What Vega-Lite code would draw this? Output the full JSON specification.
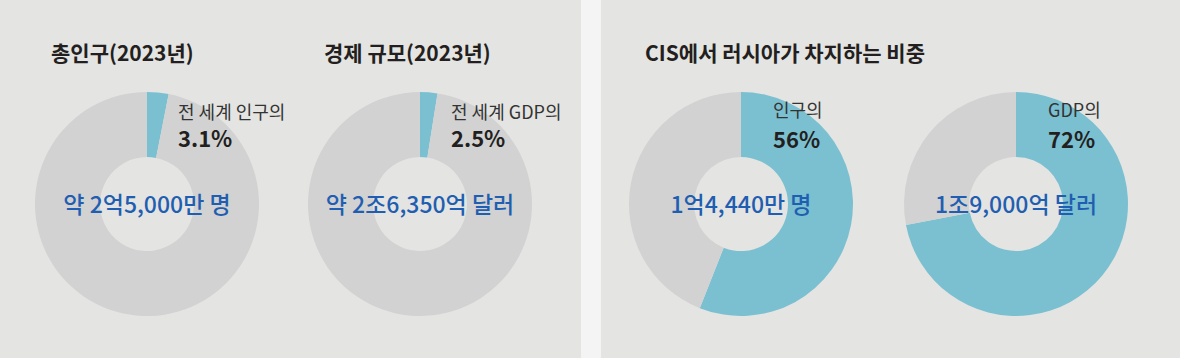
{
  "$schema": "https://vega.github.io/schema/vega-lite/v6.json",
  "background": "#f4f4f4",
  "padding": 0,
  "spacing": 20,
  "config": {"view": {"fill": "#e4e4e2", "stroke": null}, "font": "Noto Sans CJK KR"},
  "datasets": {
    "shares": [
      {"panel": "world", "chart": "population", "part": "share", "value": 3.1},
      {"panel": "world", "chart": "population", "part": "rest", "value": 96.9},
      {"panel": "world", "chart": "gdp", "part": "share", "value": 2.5},
      {"panel": "world", "chart": "gdp", "part": "rest", "value": 97.5},
      {"panel": "cis", "chart": "cis_population", "part": "share", "value": 56},
      {"panel": "cis", "chart": "cis_population", "part": "rest", "value": 44},
      {"panel": "cis", "chart": "cis_gdp", "part": "share", "value": 72},
      {"panel": "cis", "chart": "cis_gdp", "part": "rest", "value": 28}
    ],
    "labels": [
      {"panel": "world", "chart": "population", "title": "총인구(2023년)", "label": "전 세계 인구의", "pct": "3.1%", "center": "약 2억5,000만 명"},
      {"panel": "world", "chart": "gdp", "title": "경제 규모(2023년)", "label": "전 세계 GDP의", "pct": "2.5%", "center": "약 2조6,350억 달러"},
      {"panel": "cis", "chart": "cis_population", "title": "CIS에서 러시아가 차지하는 비중", "label": "인구의", "pct": "56%", "center": "1억4,440만 명"},
      {"panel": "cis", "chart": "cis_gdp", "title": "", "label": "GDP의", "pct": "72%", "center": "1조9,000억 달러"}
    ]
  },
  "hconcat": [
    {
      "width": 581,
      "height": 358,
      "encoding": {
        "x": {"field": "chart", "type": "nominal", "scale": {"type": "point", "domain": ["population", "gdp"], "range": [147, 420], "padding": 0}, "axis": null},
        "y": {"field": "chart", "type": "nominal", "scale": {"type": "point", "domain": ["population", "gdp"], "range": [204, 204], "padding": 0}, "axis": null}
      },
      "layer": [
        {
          "data": {"name": "shares"},
          "transform": [
            {"filter": "datum.panel === 'world'"},
            {"stack": "value", "groupby": ["chart"], "sort": [{"field": "part", "order": "descending"}], "as": ["v0", "v1"]}
          ],
          "mark": {"type": "arc", "radius": 112, "radius2": 47},
          "encoding": {
            "theta": {"field": "v0", "type": "quantitative", "scale": {"domain": [0, 100]}},
            "theta2": {"field": "v1"},
            "color": {"field": "part", "type": "nominal", "scale": {"domain": ["share", "rest"], "range": ["#7bc0d1", "#d2d2d2"]}, "legend": null}
          }
        },
        {
          "data": {"name": "labels"},
          "transform": [{"filter": "datum.panel === 'world'"}],
          "mark": {"type": "text", "align": "left", "baseline": "alphabetic", "dx": -96, "dy": -143, "fontSize": 21, "fontWeight": "bold", "color": "#231f20"},
          "encoding": {"text": {"field": "title"}}
        },
        {
          "data": {"name": "labels"},
          "transform": [{"filter": "datum.panel === 'world'"}],
          "mark": {"type": "text", "align": "left", "baseline": "alphabetic", "dx": 31, "dy": -85, "fontSize": 18, "fontWeight": "normal", "color": "#333333"},
          "encoding": {"text": {"field": "label"}}
        },
        {
          "data": {"name": "labels"},
          "transform": [{"filter": "datum.panel === 'world'"}],
          "mark": {"type": "text", "align": "left", "baseline": "alphabetic", "dx": 31, "dy": -57, "fontSize": 22, "fontWeight": "bold", "color": "#231f20"},
          "encoding": {"text": {"field": "pct"}}
        },
        {
          "data": {"name": "labels"},
          "transform": [{"filter": "datum.panel === 'world'"}],
          "mark": {"type": "text", "align": "center", "baseline": "alphabetic", "dx": 0, "dy": 9, "fontSize": 23, "fontWeight": 500, "color": "#1f5eb0"},
          "encoding": {"text": {"field": "center"}}
        }
      ]
    },
    {
      "width": 579,
      "height": 358,
      "encoding": {
        "x": {"field": "chart", "type": "nominal", "scale": {"type": "point", "domain": ["cis_population", "cis_gdp"], "range": [140, 415], "padding": 0}, "axis": null},
        "y": {"field": "chart", "type": "nominal", "scale": {"type": "point", "domain": ["cis_population", "cis_gdp"], "range": [204, 204], "padding": 0}, "axis": null}
      },
      "layer": [
        {
          "data": {"name": "shares"},
          "transform": [
            {"filter": "datum.panel === 'cis'"},
            {"stack": "value", "groupby": ["chart"], "sort": [{"field": "part", "order": "descending"}], "as": ["v0", "v1"]}
          ],
          "mark": {"type": "arc", "radius": 112, "radius2": 47},
          "encoding": {
            "theta": {"field": "v0", "type": "quantitative", "scale": {"domain": [0, 100]}},
            "theta2": {"field": "v1"},
            "color": {"field": "part", "type": "nominal", "scale": {"domain": ["share", "rest"], "range": ["#7bc0d1", "#d2d2d2"]}, "legend": null}
          }
        },
        {
          "data": {"name": "labels"},
          "transform": [{"filter": "datum.panel === 'cis'"}],
          "mark": {"type": "text", "align": "left", "baseline": "alphabetic", "dx": -96, "dy": -143, "fontSize": 21, "fontWeight": "bold", "color": "#231f20"},
          "encoding": {"text": {"field": "title"}}
        },
        {
          "data": {"name": "labels"},
          "transform": [{"filter": "datum.panel === 'cis'"}],
          "mark": {"type": "text", "align": "left", "baseline": "alphabetic", "dx": 32, "dy": -87, "fontSize": 18, "fontWeight": "normal", "color": "#333333"},
          "encoding": {"text": {"field": "label"}}
        },
        {
          "data": {"name": "labels"},
          "transform": [{"filter": "datum.panel === 'cis'"}],
          "mark": {"type": "text", "align": "left", "baseline": "alphabetic", "dx": 32, "dy": -56, "fontSize": 22, "fontWeight": "bold", "color": "#231f20"},
          "encoding": {"text": {"field": "pct"}}
        },
        {
          "data": {"name": "labels"},
          "transform": [{"filter": "datum.panel === 'cis'"}],
          "mark": {"type": "text", "align": "center", "baseline": "alphabetic", "dx": 0, "dy": 9, "fontSize": 23, "fontWeight": 500, "color": "#1f5eb0"},
          "encoding": {"text": {"field": "center"}}
        }
      ]
    }
  ]
}
